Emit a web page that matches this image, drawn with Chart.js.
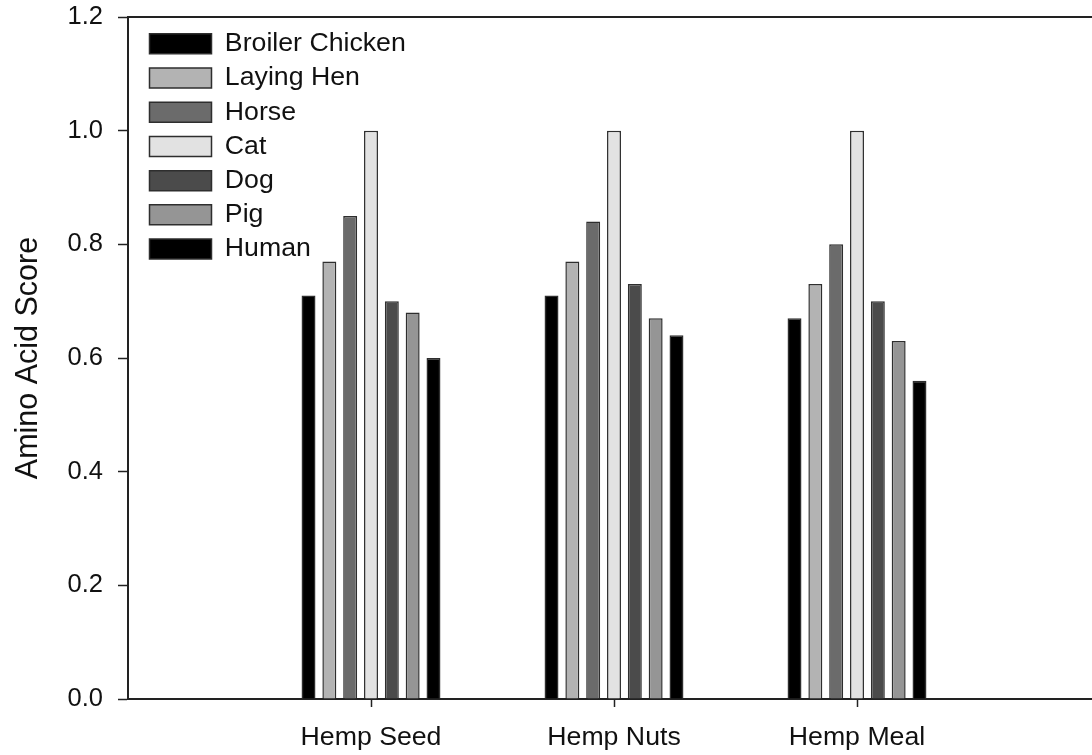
<!DOCTYPE html>
<html>
<head>
<meta charset="utf-8">
<script src="https://cdn.jsdelivr.net/npm/chart.js@4/dist/chart.umd.min.js"></script>
<style>
  html, body { margin: 0; padding: 0; overflow: hidden; background: #fff; }
  #wrap { width: 1100px; height: 755px; position: relative; }
</style>
</head>
<body>
<div id="wrap"><canvas id="c"></canvas></div>
<script>
// ---- data ----
const categories = ['Hemp Seed', 'Hemp Nuts', 'Hemp Meal'];
const seriesNames = ['Broiler Chicken', 'Laying Hen', 'Horse', 'Cat', 'Dog', 'Pig', 'Human'];
const broilerChicken = [0.71, 0.71, 0.67];
const layingHen      = [0.77, 0.77, 0.73];
const horse          = [0.85, 0.84, 0.80];
const cat            = [1.00, 1.00, 1.00];
const dog            = [0.70, 0.73, 0.70];
const pig            = [0.68, 0.67, 0.63];
const human          = [0.60, 0.64, 0.56];
const yTicks = [0.0, 0.2, 0.4, 0.6, 0.8, 1.0, 1.2];

// ---- styling ----
const seriesValues = [broilerChicken, layingHen, horse, cat, dog, pig, human];
const fills = ['#000000', '#b3b3b3', '#6b6b6b', '#e2e2e2', '#4b4b4b', '#959595', '#000000'];
const FONT = '"Liberation Sans", Arial, Helvetica, sans-serif';
const INK = '#222222';

// axis runs one empty slot beyond each side of the categories
const labels = [''].concat(categories, ['']);

const datasets = seriesNames.map((name, i) => ({
  label: name,
  data: [null].concat(seriesValues[i], [null]),
  backgroundColor: fills[i],
  borderColor: '#2e2e2e',
  borderWidth: 1.5,
  borderSkipped: 'bottom',
  categoryPercentage: 0.6,
  barPercentage: 0.67
}));

const legendShift = {
  id: 'legendShift',
  afterLayout(chart) {
    if (chart.legend) {
      chart.legend.left = chart.chartArea.left + 14;
      chart.legend.top = chart.chartArea.top + 6;
    }
  }
};

new Chart(document.getElementById('c'), {
  type: 'bar',
  data: { labels, datasets },
  plugins: [legendShift],
  options: {
    responsive: true,
    maintainAspectRatio: false,
    animation: false,
    layout: { padding: { top: 17, left: 0, right: 0, bottom: 0 } },
    plugins: {
      tooltip: { enabled: false },
      legend: {
        position: 'chartArea',
        align: 'start',
        labels: {
          boxWidth: 62,
          boxHeight: 20,
          padding: 7.5,
          color: '#111',
          font: { family: FONT, size: 26.7 }
        }
      }
    },
    scales: {
      x: {
        type: 'category',
        offset: false,
        afterFit(axis) { axis.height = 56; axis.paddingLeft = 0; axis.paddingRight = 0; },
        border: { display: true, color: INK, width: 2 },
        grid: {
          display: true,
          offset: false,
          drawOnChartArea: false,
          drawTicks: true,
          tickLength: 8,
          tickWidth: 1.5,
          tickColor: (ctx) => (ctx.index === 0 || ctx.index === labels.length - 1) ? 'rgba(0,0,0,0)' : INK
        },
        ticks: {
          color: '#111',
          padding: 15,
          maxRotation: 0,
          autoSkip: false,
          font: { family: FONT, size: 26.7 }
        }
      },
      xTop: {
        type: 'category',
        position: 'top',
        offset: false,
        labels: labels,
        afterFit(axis) { axis.height = 0; axis.paddingLeft = 0; axis.paddingRight = 0; },
        border: { display: true, color: INK, width: 2 },
        grid: { display: false, drawTicks: false },
        ticks: { display: false }
      },
      y: {
        min: 0,
        max: 1.2,
        afterFit(axis) { axis.width = 128; axis.paddingTop = 0; axis.paddingBottom = 0; },
        afterBuildTicks(axis) { axis.ticks = yTicks.map(v => ({ value: v })); },
        border: { display: true, color: INK, width: 2 },
        grid: {
          display: true,
          drawOnChartArea: false,
          drawTicks: true,
          tickLength: 10,
          tickWidth: 1.5,
          tickColor: INK
        },
        ticks: {
          color: '#111',
          padding: 15,
          font: { family: FONT, size: 25.5 },
          callback: (v) => Number(v).toFixed(1)
        },
        title: {
          display: true,
          text: 'Amino Acid Score',
          color: '#111',
          font: { family: FONT, size: 30.5, lineHeight: 1.2 },
          padding: { top: 10, bottom: 0 }
        }
      }
    }
  }
});
</script>
</body>
</html>
